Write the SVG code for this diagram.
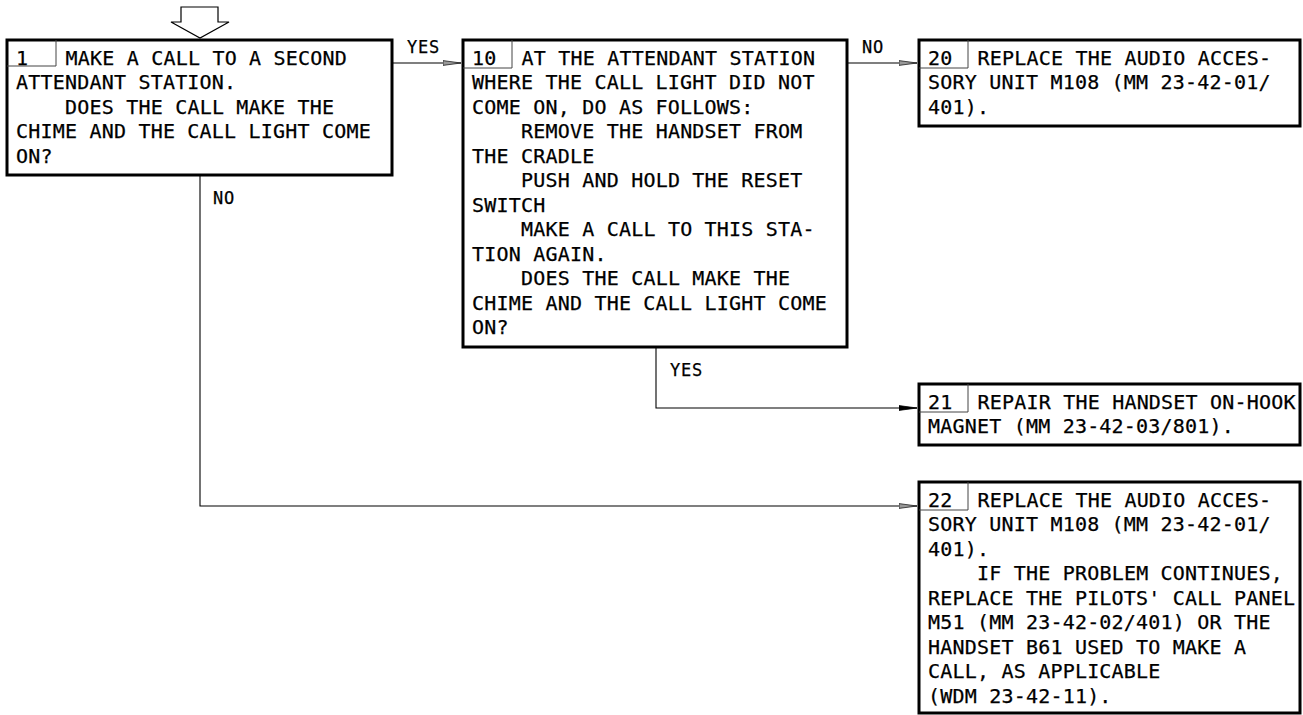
<svg xmlns="http://www.w3.org/2000/svg" width="1303" height="715" viewBox="0 0 1303 715">
<style>
.box{fill:#fff;stroke:#000;stroke-width:3}
.cell{fill:none;stroke:#444;stroke-width:1}
.t{font-family:"DejaVu Sans Mono","Liberation Mono",monospace;font-size:20px;letter-spacing:0.2px;fill:#000;stroke:#000;stroke-width:0.25}
.lbl{font-family:"DejaVu Sans Mono","Liberation Mono",monospace;font-size:17px;letter-spacing:0.8px;fill:#000;stroke:#000;stroke-width:0.25}
.conn{fill:none;stroke:#000;stroke-width:1.1}
</style>
<defs>
<marker id="open" markerUnits="userSpaceOnUse" markerWidth="20" markerHeight="8" refX="18" refY="3" orient="auto">
<path d="M0,0.6 L18,3 L0,5.4 Z" fill="#999" stroke="#222" stroke-width="0.8"/>
</marker>
<marker id="solid" markerUnits="userSpaceOnUse" markerWidth="20" markerHeight="8" refX="18" refY="3" orient="auto">
<path d="M0,0.6 L18,3 L0,5.4 Z" fill="#000" stroke="#000" stroke-width="0.8"/>
</marker>
</defs>

<polygon id="entry" points="181,7 218,7 218,22 229,22 200,38 171,22 181,22" fill="#fff" stroke="#000" stroke-width="1.2"/>

<g id="connectors">
<path class="conn" d="M393,63 H461" marker-end="url(#open)"/>
<path class="conn" d="M848,63 H917" marker-end="url(#open)"/>
<path class="conn" d="M656,348 V408 H917" marker-end="url(#solid)"/>
<path class="conn" d="M200,176 V506 H917" marker-end="url(#open)"/>
<text class="lbl" x="407" y="53">YES</text>
<text class="lbl" x="862" y="53">NO</text>
<text class="lbl" x="213" y="204">NO</text>
<text class="lbl" x="670" y="376">YES</text>
</g>

<g id="node1">
<rect class="box" x="7" y="40" width="385" height="135"/>
<path class="cell" d="M56,40 V66 M7,66 H56"/>
<text class="t" x="16" y="65">1</text>
<text class="t" x="65.5" y="65">MAKE A CALL TO A SECOND</text>
<text class="t">
<tspan x="16" y="89.45">ATTENDANT STATION.</tspan>
<tspan x="65" y="113.9">DOES THE CALL MAKE THE</tspan>
<tspan x="16" y="138.35">CHIME AND THE CALL LIGHT COME</tspan>
<tspan x="16" y="162.8">ON?</tspan>
</text>
</g>

<g id="node10">
<rect class="box" x="463" y="40" width="384" height="307"/>
<path class="cell" d="M512,40 V68 M463,68 H512"/>
<text class="t" x="472" y="65">10</text>
<text class="t" x="521.5" y="65">AT THE ATTENDANT STATION</text>
<text class="t">
<tspan x="472" y="89.45">WHERE THE CALL LIGHT DID NOT</tspan>
<tspan x="472" y="113.9">COME ON, DO AS FOLLOWS:</tspan>
<tspan x="521" y="138.35">REMOVE THE HANDSET FROM</tspan>
<tspan x="472" y="162.8">THE CRADLE</tspan>
<tspan x="521" y="187.25">PUSH AND HOLD THE RESET</tspan>
<tspan x="472" y="211.7">SWITCH</tspan>
<tspan x="521" y="236.15">MAKE A CALL TO THIS STA-</tspan>
<tspan x="472" y="260.6">TION AGAIN.</tspan>
<tspan x="521" y="285.05">DOES THE CALL MAKE THE</tspan>
<tspan x="472" y="309.5">CHIME AND THE CALL LIGHT COME</tspan>
<tspan x="472" y="333.95">ON?</tspan>
</text>
</g>

<g id="node20">
<rect class="box" x="919" y="40" width="381" height="86"/>
<path class="cell" d="M968,40 V68 M919,68 H968"/>
<text class="t" x="928" y="65">20</text>
<text class="t" x="977.5" y="65">REPLACE THE AUDIO ACCES-</text>
<text class="t">
<tspan x="928" y="89.45">SORY UNIT M108 (MM 23-42-01/</tspan>
<tspan x="928" y="113.9">401).</tspan>
</text>
</g>

<g id="node21">
<rect class="box" x="919" y="384" width="381" height="61"/>
<path class="cell" d="M968,384 V412 M919,412 H968"/>
<text class="t" x="928" y="409">21</text>
<text class="t" x="977.5" y="409">REPAIR THE HANDSET ON-HOOK</text>
<text class="t" x="928" y="433.45">MAGNET (MM 23-42-03/801).</text>
</g>

<g id="node22">
<rect class="box" x="919" y="482" width="381" height="231"/>
<path class="cell" d="M968,482 V510 M919,510 H968"/>
<text class="t" x="928" y="507">22</text>
<text class="t" x="977.5" y="507">REPLACE THE AUDIO ACCES-</text>
<text class="t">
<tspan x="928" y="531.45">SORY UNIT M108 (MM 23-42-01/</tspan>
<tspan x="928" y="555.9">401).</tspan>
<tspan x="977" y="580.35">IF THE PROBLEM CONTINUES,</tspan>
<tspan x="928" y="604.8">REPLACE THE PILOTS' CALL PANEL</tspan>
<tspan x="928" y="629.25">M51 (MM 23-42-02/401) OR THE</tspan>
<tspan x="928" y="653.7">HANDSET B61 USED TO MAKE A</tspan>
<tspan x="928" y="678.15">CALL, AS APPLICABLE</tspan>
<tspan x="928" y="702.6">(WDM 23-42-11).</tspan>
</text>
</g>
</svg>
